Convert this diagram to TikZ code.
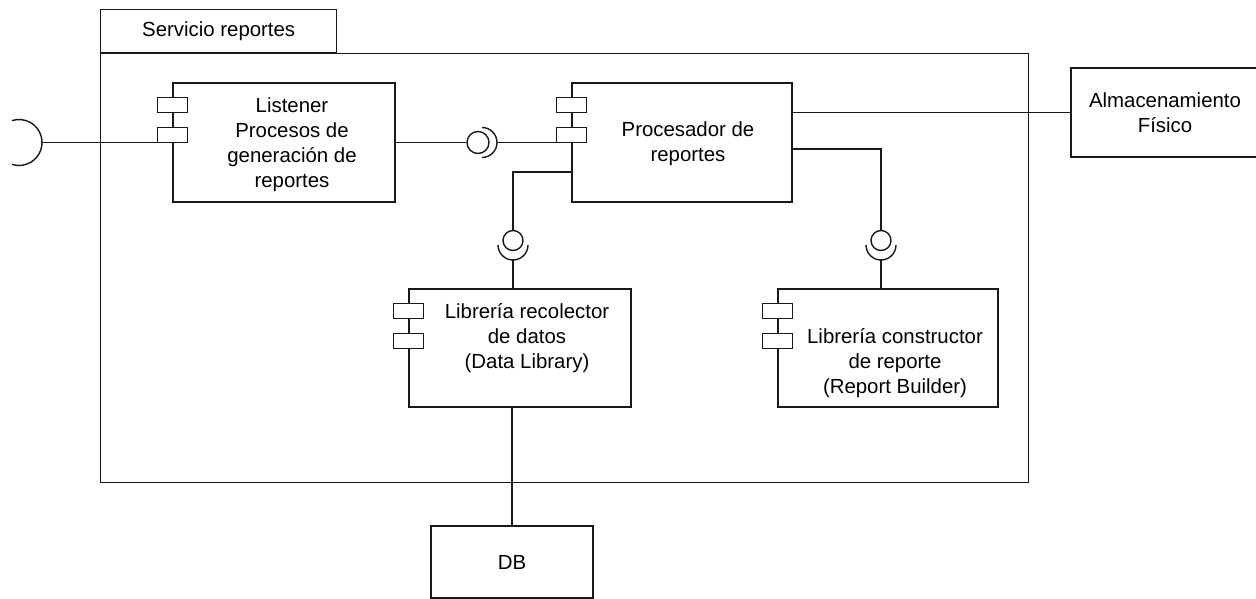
\documentclass[tikz,border=0pt]{standalone}
\usepackage{fontspec}
\setmainfont{Liberation Sans}
\usetikzlibrary{positioning}

\tikzset{
    line/.style={line width=1.4pt, draw=black!90},
    box/.style={line, draw, rectangle, inner sep=0pt, fill=white, align=center},
    port/.style={line, fill=white},
    txt/.style={align=center, inner sep=0pt},
    ball/.style={line, draw, circle, inner sep=0pt, fill=white},
}

\newcommand{\compports}[1]{
    \draw[port] ([shift={(-15,15)}]#1.north west) rectangle ++(30,15);
    \draw[port] ([shift={(-15,45)}]#1.north west) rectangle ++(30,15);
}

\begin{document}
\begin{tikzpicture}[x=1pt, y=-1pt, font=\fontsize{20.4}{25}\selectfont]

    \useasboundingbox (0,0) rectangle (1256,599);

    % frame of the service
    \node[box, minimum width=928pt, minimum height=429pt, anchor=north west] (servicio) at (100,53) {};
    \node[box, minimum width=236pt, minimum height=43pt, anchor=south west] (tab) at (100,53) {Servicio reportes};

    \node[box, minimum width=222pt, minimum height=119pt] (listener) at (284,142.5) {};
    \node[box, minimum width=220pt, minimum height=119pt] (procesador) at (682,142.5) {};
    \node[box, minimum width=222pt, minimum height=118pt] (recolector) at (520,348) {};
    \node[box, minimum width=220pt, minimum height=118pt] (builder) at (888,348) {};
    \node[box, minimum width=188pt, minimum height=89pt] (almacen) at (1165,112.5) {Almacenamiento\\F\'isico};
    \node[box, minimum width=162pt, minimum height=72pt] (db) at (512,562) {DB};

    \node[txt] (listener-txt) at ([shift={(8,2)}]listener.center) {Listener\\Procesos de\\generaci\'on de\\reportes};
    \node[txt] (procesador-txt) at ([shift={(6,1)}]procesador.center) {Procesador de\\reportes};
    \node[txt] (recolector-txt) at ([shift={(7,-10)}]recolector.center) {Librer\'ia recolector\\de datos\\(Data Library)};
    \node[txt] (builder-txt) at ([shift={(7,15)}]builder.center) {Librer\'ia constructor\\de reporte\\(Report Builder)};

    \node[ball, minimum size=22pt] (ballA) at (478,142.5) {};
    \node[ball, minimum size=20pt] (ballB) at (513,240.5) {};
    \node[ball, minimum size=20pt] (ballC) at (881,240.5) {};

    \coordinate (sockIn) at (42,142.5);
    \coordinate (sockA) at (497,142.5);
    \coordinate (sockB) at (513,260);
    \coordinate (sockC) at (881,260);

    \begin{scope}[line]
        \draw (sockIn) arc[start angle=0, end angle=108, radius=23pt];
        \draw (sockIn) arc[start angle=0, end angle=-108, radius=23pt];
        \draw (sockA) arc[start angle=0, end angle=90, radius=15pt];
        \draw (sockA) arc[start angle=0, end angle=-90, radius=15pt];
        \foreach \s in {sockB, sockC} {
            \draw (\s) arc[start angle=270, end angle=180, radius=15pt];
            \draw (\s) arc[start angle=270, end angle=360, radius=15pt];
        }

        \draw (sockIn) -- ([xshift=-15pt]listener.west);
        \draw (listener.east) -- (ballA.west);
        \draw (sockA) -- ([xshift=-15pt]procesador.west);
        \draw ([shift={(0,29.5)}]procesador.west) -| (ballB.north);
        \draw (sockB) -- (sockB |- recolector.north);
        \draw ([shift={(0,6.5)}]procesador.east) -| (ballC.north);
        \draw (sockC) -- (sockC |- builder.north);
        \draw (procesador.east |- almacen.west) -- (almacen.west);
        \draw (db.north |- recolector.south) -- (db.north);
    \end{scope}

    \compports{listener}
    \compports{procesador}
    \compports{recolector}
    \compports{builder}

\end{tikzpicture}
\end{document}
